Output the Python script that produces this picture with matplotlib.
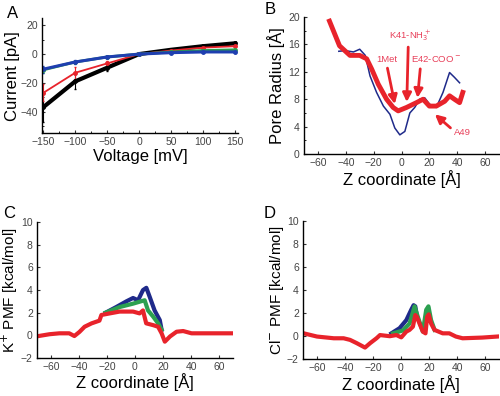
import numpy as np
import matplotlib
matplotlib.use("Agg")
import matplotlib.pyplot as plt
from matplotlib.ticker import MultipleLocator

# ---- panel A: I-V curves
voltage = [-150, -100, -50, 0, 50, 100, 150]
cur_black = [-37, -19, -9.5, 0, 3, 5.5, 7.5]
err_black = [10, 5, 2, 0.5, 0.5, 0.8, 1.0]
cur_red = [-27, -13, -6.5, 0, 2.5, 4.5, 5.5]
err_red = [6, 4, 1.5, 0.5, 0.5, 0.5, 0.8]
cur_green = [-11, -5.5, -2, 0, 1.5, 2.5, 3]
err_green = [2, 1, 0.5, 0.3, 0.3, 0.3, 0.5]
cur_blue = [-10.5, -5.5, -2, 0, 1, 1.5, 1.5]
err_blue = [2.5, 1.5, 1, 0.3, 0.3, 0.3, 0.5]

# ---- panel B: pore radius
zb_red = [-51.7, -44.5, -37, -30, -25, -21.4, -16.7, -10.7, -6, -2.4, 3.6, 10.7,
          15.5, 20, 25, 31, 34.5, 38, 41.7, 44]
rb_red = [19.4, 15.8, 14.4, 14.4, 13.9, 12.4, 10.2, 8.0, 6.8, 6.3, 6.8, 7.5,
          8.0, 7.0, 7.0, 7.7, 8.5, 8.0, 7.5, 9.0]
zb_blue = [-45, -40.5, -34.5, -30, -26, -22.6, -17.9, -13, -8.3, -4.8, -1.2, 2.4,
           6, 9.5, 13, 16.7, 20, 25, 29.8, 34.5, 38, 41.7]
rb_blue = [15.0, 15.1, 14.9, 15.3, 14.4, 11.4, 9.0, 7.0, 5.8, 3.8, 2.8, 3.3,
           6.0, 6.8, 8.0, 8.2, 7.3, 6.8, 9.0, 11.9, 11.2, 10.4]
ann_text = ["K41-NH$_3^+$", "1Met", "E42-COO$^-$", "A49"]
ann_xy = [(3.8, 7.6), (-4.8, 7.3), (11.5, 8.2), (24, 5.8)]
ann_txt_xy = [(6.4, 17.3), (-10.7, 13.8), (24.5, 13.8), (44, 3.2)]
ann_rel = [(0.45, 0.0), (0.5, 0.0), (0.2, 0.0), (0.0, 0.6)]

# ---- panel C: K+ PMF
zc_red = [-70.8, -61, -54, -47, -43.3, -39.7, -36, -31, -25.4, -24, -18, -11, -1.4,
          3.3, 5.7, 8, 13, 16.5, 19, 21.3, 25, 29.7, 34.4, 40.4, 46, 58, 69]
pc_red = [-0.1, 0.1, 0.18, 0.18, -0.06, 0.3, 0.76, 1.06, 1.3, 1.8, 1.94, 2.1, 2.1,
          1.94, 2.2, 1.06, 0.9, 0.76, 0.18, -0.56, -0.1, 0.32, 0.38, 0.18, 0.18, 0.18, 0.18]
zc_blue = [-21, -13.4, -6.2, -1.4, 2.2, 5.7, 8.1, 10.5, 14, 17.7, 19]
pc_blue = [2.0, 2.5, 3.0, 3.3, 3.1, 4.0, 4.2, 3.4, 2.2, 1.35, 0.5]
zc_green = [-21, -11, -1.4, 3.3, 6.9, 9.3, 13, 16.5, 19]
pc_green = [2.0, 2.5, 2.8, 2.97, 3.1, 2.2, 1.65, 1.06, 0.5]

# ---- panel D: Cl- PMF
zd_red = [-69.5, -60, -48, -41, -36.4, -31.7, -25.7, -22, -17.5, -15, -8, -3.3, 0.2,
          3.8, 6.1, 8.5, 10.2, 11.3, 13.2, 15.6, 17.5, 18.7, 19.8, 21.5, 23.9, 29.8,
          34.5, 39.2, 44, 58, 68.7]
pd_red = [0.25, -0.03, -0.18, -0.18, -0.32, -0.6, -0.99, -0.6, -0.18, 0.1, 0.0, 0.1,
          -0.1, 0.4, 0.55, 0.83, 1.84, 1.7, 1.1, 0.4, 0.25, 1.7, 1.9, 1.1, 0.55, 0.25,
          0.25, -0.03, -0.18, -0.12, -0.03]
zd_blue = [-6.9, -1, 3.8, 7.3, 9, 10.2, 11.3]
pd_blue = [0.25, 0.7, 1.4, 2.3, 2.7, 2.6, 1.8]
zd_green = [-5.7, 1.4, 6.1, 9.7, 12, 15.6, 18, 19.6, 21.5, 24]
pd_green = [0.25, 0.5, 1.1, 2.6, 1.7, 0.4, 2.3, 2.6, 1.4, 0.55]

NAVY = '#1f2a8a'
GREEN = '#2ca050'
RED = '#e8232b'
TXT = '#e8405a'

plt.rcParams['font.family'] = 'Liberation Sans'
plt.rcParams['xtick.direction'] = 'in'
plt.rcParams['ytick.direction'] = 'in'
plt.rcParams['xtick.major.size'] = 2.5
plt.rcParams['ytick.major.size'] = 2.5
plt.rcParams['xtick.minor.size'] = 1.5
plt.rcParams['ytick.minor.size'] = 1.5
plt.rcParams['xtick.labelsize'] = 7.5
plt.rcParams['ytick.labelsize'] = 7.5
plt.rcParams['axes.linewidth'] = 1.0

fig = plt.figure(figsize=(5, 3.96), dpi=100)


def style(ax):
    ax.spines['top'].set_visible(False)
    ax.spines['right'].set_visible(False)
    ax.tick_params(colors='#333333', labelcolor='#444444', pad=3)


# A
axA = fig.add_axes([0.084, 0.664, 0.392, 0.290])
style(axA)
axA.errorbar(voltage, cur_black, yerr=err_black, color='black', lw=3, marker='o', ms=2.5,
             elinewidth=0.8, capsize=1)
axA.errorbar(voltage, cur_red, yerr=err_red, color=RED, lw=1.3, marker='o', ms=2.5,
             elinewidth=0.8, capsize=1)
axA.errorbar(voltage, cur_green, yerr=err_green, color=GREEN, lw=2, marker='o', ms=2.5,
             elinewidth=0.8, capsize=1)
axA.errorbar(voltage, cur_blue, yerr=err_blue, color='#1f3fb0', lw=2.2, marker='o', ms=2.5,
             elinewidth=0.8, capsize=1)
axA.set_xlim(-152, 155)
axA.set_ylim(-55, 25)
axA.set_xticks([-150, -100, -50, 0, 50, 100, 150])
axA.set_yticks([-40, -20, 0, 20])
axA.xaxis.set_minor_locator(MultipleLocator(25))
axA.yaxis.set_minor_locator(MultipleLocator(10))
axA.set_xlabel('Voltage [mV]', fontsize=12, labelpad=1)
axA.set_ylabel('Current [pA]', fontsize=12, labelpad=0)

# B
axB = fig.add_axes([0.608, 0.611, 0.39, 0.346])
style(axB)
axB.plot(zb_blue, rb_blue, color=NAVY, lw=1.1)
axB.plot(zb_red, rb_red, color=RED, lw=3.5)
for t, xy, txy, rp in zip(ann_text, ann_xy, ann_txt_xy, ann_rel):
    axB.annotate(t, xy=xy, xytext=txy, color=TXT, fontsize=6.8, ha='center', va='center',
                 arrowprops=dict(arrowstyle='-|>', color=RED, lw=2, mutation_scale=13,
                                 shrinkA=1, shrinkB=0, relpos=rp))
axB.set_xlim(-70, 70)
axB.set_ylim(0, 20)
axB.set_xticks(range(-60, 61, 20))
axB.set_yticks(range(0, 21, 4))
axB.yaxis.set_minor_locator(MultipleLocator(2))
axB.set_xlabel('Z coordinate [Å]', fontsize=12, labelpad=1)
axB.set_ylabel('Pore Radius [Å]', fontsize=12, labelpad=2)

# C
axC = fig.add_axes([0.074, 0.096, 0.392, 0.343])
style(axC)
axC.plot(zc_blue, pc_blue, color=NAVY, lw=3)
axC.plot(zc_green, pc_green, color=GREEN, lw=3)
axC.plot(zc_red, pc_red, color=RED, lw=3)
axC.set_xlim(-70, 70)
axC.set_ylim(-2, 10)
axC.set_xticks(range(-60, 61, 20))
axC.set_yticks(range(-2, 11, 2))
axC.set_xlabel('Z coordinate [Å]', fontsize=12, labelpad=1)
axC.set_ylabel('K$^{+}$ PMF [kcal/mol]', fontsize=11, labelpad=1)

# D
axD = fig.add_axes([0.606, 0.093, 0.392, 0.348])
style(axD)
axD.plot(zd_blue, pd_blue, color=NAVY, lw=3)
axD.plot(zd_green, pd_green, color=GREEN, lw=3)
axD.plot(zd_red, pd_red, color=RED, lw=3)
axD.set_xlim(-70, 70)
axD.set_ylim(-2, 10)
axD.set_xticks(range(-60, 61, 20))
axD.set_yticks(range(-2, 11, 2))
axD.set_xlabel('Z coordinate [Å]', fontsize=12, labelpad=1)
axD.set_ylabel('Cl$^{-}$ PMF [kcal/mol]', fontsize=11, labelpad=1)

fig.text(0.014, 0.985, 'A', fontsize=12, va='top', ha='left')
fig.text(0.53, 0.995, 'B', fontsize=12, va='top', ha='left')
fig.text(0.006, 0.48, 'C', fontsize=12, va='top', ha='left')
fig.text(0.528, 0.48, 'D', fontsize=12, va='top', ha='left')

plt.savefig('out.png', dpi=100)
